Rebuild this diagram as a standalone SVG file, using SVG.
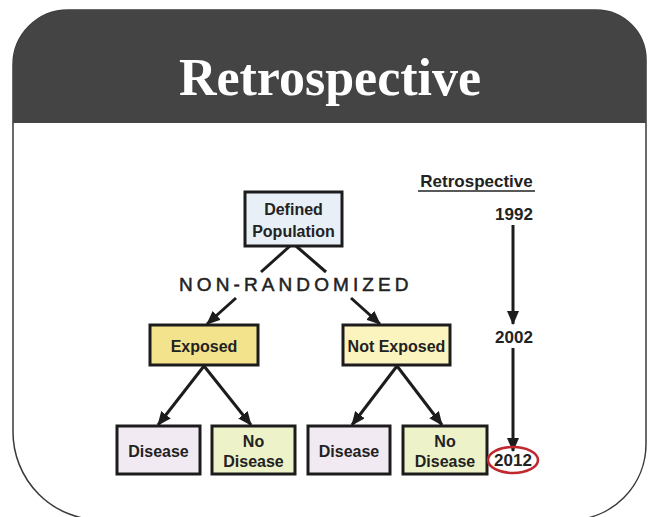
<svg xmlns="http://www.w3.org/2000/svg" width="651" height="517" viewBox="0 0 651 517">
<style>
.box{stroke:#1c1c1c;stroke-width:3}
.t{font-family:"Liberation Sans",Arial,sans-serif;font-weight:bold;font-size:16px;fill:#222;text-anchor:middle}
.tl{font-family:"Liberation Sans",Arial,sans-serif;font-weight:bold;font-size:17px;fill:#222;text-anchor:middle}
.c{stroke:#1c1c1c;stroke-width:3;fill:none}
</style>
<defs>
<clipPath id="card"><path d="M13,65 A55,55 0 0 1 68,10 H596 A50,50 0 0 1 646,60 V444 A76,76 0 0 1 570,520 H101 A88,88 0 0 1 13,432 Z"/></clipPath>
<marker id="ah" markerUnits="userSpaceOnUse" markerWidth="14" markerHeight="12" refX="13" refY="6" orient="auto"><path d="M0,0 L14,6 L0,12 Z" fill="#1c1c1c"/></marker>
</defs>
<g id="card-frame">
<path d="M13,65 A55,55 0 0 1 68,10 H596 A50,50 0 0 1 646,60 V444 A76,76 0 0 1 570,520 H101 A88,88 0 0 1 13,432 Z" fill="#fff" stroke="#3a3a3a" stroke-width="1.5"/>
<rect x="0" y="0" width="651" height="123" fill="#444" clip-path="url(#card)"/>
<text x="330" y="95" font-family="Liberation Serif,'Times New Roman',serif" font-weight="bold" font-size="52" fill="#fff" text-anchor="middle">Retrospective</text>
</g>
<g id="connectors">
<line class="c" x1="290" y1="246" x2="261" y2="272"/>
<line class="c" x1="296" y1="246" x2="326" y2="272"/>
<line class="c" x1="236" y1="298" x2="207" y2="324" marker-end="url(#ah)"/>
<line class="c" x1="351" y1="298" x2="380" y2="324" marker-end="url(#ah)"/>
<line class="c" x1="204" y1="366" x2="158" y2="425" marker-end="url(#ah)"/>
<line class="c" x1="204" y1="366" x2="251" y2="425" marker-end="url(#ah)"/>
<line class="c" x1="397" y1="366" x2="352" y2="425" marker-end="url(#ah)"/>
<line class="c" x1="397" y1="366" x2="442" y2="425" marker-end="url(#ah)"/>
<line class="c" x1="513" y1="225" x2="513" y2="324" marker-end="url(#ah)"/>
<line class="c" x1="513" y1="348" x2="513" y2="451" marker-end="url(#ah)"/>
</g>
<g id="defined-population">
<rect class="box" x="245" y="192" width="97" height="54" fill="#e8eff7"/>
<text class="t" x="293.5" y="215">Defined</text>
<text class="t" x="293.5" y="237">Population</text>
</g>
<g id="non-randomized">
<text x="179" y="291" font-family="Liberation Sans,Arial,sans-serif" font-size="19" letter-spacing="4.1" fill="#222" stroke="#222" stroke-width="0.5">NON-RANDOMIZED</text>
</g>
<g id="exposed">
<rect class="box" x="150" y="325" width="108" height="40" fill="#f3e38c"/>
<text class="t" x="204" y="352">Exposed</text>
</g>
<g id="not-exposed">
<rect class="box" x="343" y="325" width="107" height="40" fill="#fbf4bf"/>
<text class="t" x="396.5" y="352">Not Exposed</text>
</g>
<g id="disease-1">
<rect class="box" x="117" y="426" width="83" height="48" fill="#f2eaf2"/>
<text class="t" x="158.5" y="457">Disease</text>
</g>
<g id="no-disease-1">
<rect class="box" x="212" y="426" width="83" height="48" fill="#edf2c8"/>
<text class="t" x="253.5" y="447">No</text>
<text class="t" x="253.5" y="467">Disease</text>
</g>
<g id="disease-2">
<rect class="box" x="308" y="426" width="82" height="48" fill="#f2eaf2"/>
<text class="t" x="349" y="457">Disease</text>
</g>
<g id="no-disease-2">
<rect class="box" x="403" y="426" width="84" height="48" fill="#edf2c8"/>
<text class="t" x="445" y="447">No</text>
<text class="t" x="445" y="467">Disease</text>
</g>
<g id="timeline">
<text class="tl" x="476.5" y="187">Retrospective</text>
<line x1="418" y1="191" x2="535" y2="191" stroke="#222" stroke-width="1.5"/>
<text class="tl" x="514" y="220">1992</text>
<text class="tl" x="514" y="343">2002</text>
</g>
<g id="year-2012">
<ellipse cx="513" cy="460" rx="25" ry="13" fill="none" stroke="#c0282d" stroke-width="2.5"/>
<text class="tl" x="513" y="466">2012</text>
</g>
</svg>
